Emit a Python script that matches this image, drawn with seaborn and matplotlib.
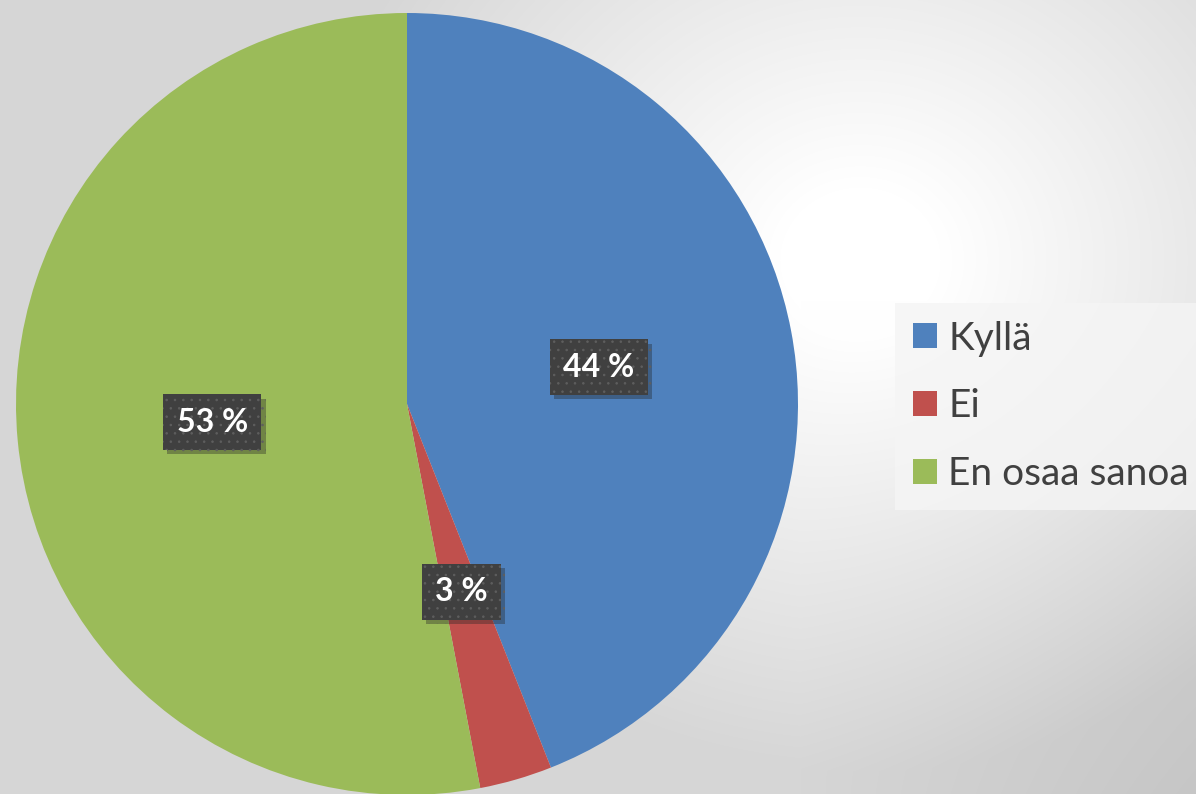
import numpy as np
import matplotlib
matplotlib.use("Agg")
import matplotlib.pyplot as plt
import matplotlib.patheffects as pe
import seaborn as sns

categories = ["Kyllä", "Ei", "En osaa sanoa"]
shares = [44, 3, 53]
pct_labels = ["44 %", "3 %", "53 %"]
colors = ["#4F81BD", "#C0504D", "#9BBB59"]

sns.set_theme(style="white")
plt.rcParams['font.family'] = ['Lato', 'DejaVu Sans']
plt.rcParams['hatch.linewidth'] = 0.6

W, H = 1196, 794
fig = plt.figure(figsize=(W / 100, H / 100), dpi=100)

# background gradient
bg = fig.add_axes([0, 0, 1, 1], zorder=-10)
yy, xx = np.mgrid[0:H, 0:W]
d = np.hypot((xx - 860) * 1.0, (yy - 260) * 1.1)
v = np.clip(255 - np.clip(d - 80, 0, None) * 0.085, 214, 255)
v = v - 16 * np.clip((xx - 800) / 400, 0, 1) * np.clip((yy - 300) / 494, 0, 1)
img = np.dstack([v, v, v]) / 255.0
bg.imshow(img, aspect='auto', extent=[0, W, H, 0])
bg.set_axis_off()

# pie axes
cx, cy, r = 407, 404, 391
ax = fig.add_axes([(cx - r) / W, (H - cy - r) / H, 2 * r / W, 2 * r / H])
ax.patch.set_alpha(0)

pal = sns.color_palette(colors)
wedges, texts = ax.pie(shares, colors=pal, startangle=90, counterclock=False,
                       radius=1, wedgeprops=dict(linewidth=0))
ax.set_xlim(-1, 1)
ax.set_ylim(-1, 1)
ax.set_aspect('equal')
ax.set_axis_off()

for w, lab in zip(wedges, pct_labels):
    mid = np.deg2rad((w.theta1 + w.theta2) / 2)
    x, y = 0.5 * np.cos(mid), 0.5 * np.sin(mid)
    t = ax.text(x, y, lab, ha='center', va='center', fontsize=23,
                fontweight='bold', color='white',
                bbox=dict(boxstyle='square,pad=0.42', facecolor='#404040',
                          edgecolor='#5e5e5e', linewidth=0, hatch='..'))
    t.get_bbox_patch().set_path_effects([
        pe.SimplePatchShadow(offset=(3, -3), shadow_rgbFace='#202020', alpha=0.35),
        pe.Normal()])

leg = fig.legend(wedges, categories, loc='upper left',
                 bbox_to_anchor=(895 / W, 1 - 303 / H),
                 fontsize=28, frameon=True, fancybox=False,
                 handlelength=0.62, handleheight=0.62, handletextpad=0.3,
                 labelspacing=0.82, borderpad=0.45, borderaxespad=0)
leg.get_frame().set_facecolor((0.96, 0.96, 0.96, 0.6))
leg.get_frame().set_linewidth(0)
for t in leg.get_texts():
    t.set_color('#404040')

fig.savefig("out.png", dpi=100)
